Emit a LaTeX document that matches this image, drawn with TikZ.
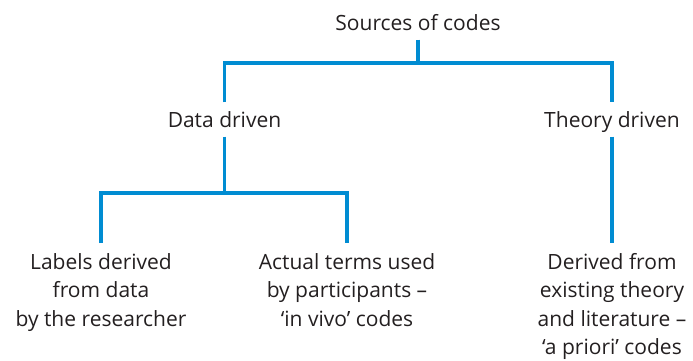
\documentclass[tikz,border=0pt]{standalone}
\usepackage{fontspec}
\setmainfont{Open Sans}
\usetikzlibrary{positioning}

\definecolor{treeblue}{RGB}{0,140,210}
\definecolor{inkgrey}{RGB}{35,31,32}

\begin{document}
\begin{tikzpicture}[
        x=1pt, y=-1pt,
        head/.style={inner xsep=2pt, inner ysep=4.5pt, text height=20pt, text depth=5pt, anchor=base, text=inkgrey, font=\fontsize{21}{28.5}\selectfont},
        leaf/.style={inner xsep=2pt, inner ysep=10pt, anchor=north, align=center, text=inkgrey, font=\fontsize{21}{28.5}\selectfont},
        branch/.style={draw=treeblue, line width=3.3pt}
    ]
        \useasboundingbox (0,0) rectangle (693,360);

        % Levels
        \node[head] (sources) at (418,30) {Sources of codes};
        \node[head] (data) at (224.5,127) {Data driven};
        \node[head] (theory) at (612,127) {Theory driven};

        % Leaves
        \node[leaf] (labels) at (101,243) {Labels derived\\from data\\by the researcher};
        \node[leaf] (terms) at (347,243) {Actual terms used\\by participants –\\‘in vivo’ codes};
        \node[leaf] (priori) at (612,243) {Derived from\\existing theory\\and literature –\\‘a priori’ codes};

        % Bars
        \coordinate (topbar) at (418,63);
        \coordinate (databar) at (224,193);

        \draw[branch] (sources.south) -- (sources.south |- topbar);
        \draw[branch] (data.north) |- (topbar) -| (theory.north);
        \draw[branch] (theory.south) -- (priori.north);

        \draw[branch] (data.south) -- (data.south |- databar);
        \draw[branch] (labels.north) |- (databar) -| (terms.north);

    \end{tikzpicture}
\end{document}
